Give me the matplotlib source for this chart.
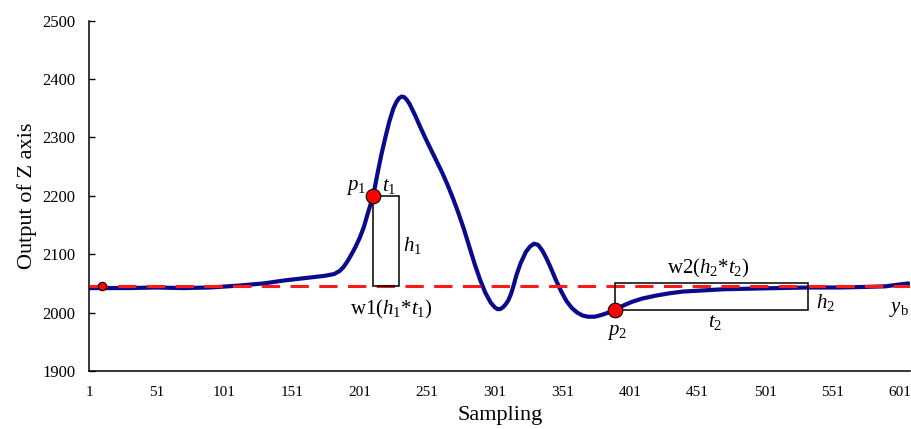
import matplotlib
matplotlib.use("Agg")
import matplotlib.pyplot as plt
from matplotlib.patches import Rectangle

# Z-axis output vs. sampling index
sampling = [1, 10, 30, 50, 70, 90, 110, 130, 145, 160, 175, 182, 186, 189, 192,
            195, 198, 201, 204, 207, 209, 211, 214, 217, 220, 223, 226, 228, 230,
            232, 234, 236, 238, 242, 246, 250, 254, 258, 262, 266, 270, 274, 278,
            282, 286, 290, 294, 298, 301, 303, 305, 307, 309, 311, 313, 315, 317,
            320, 324, 327, 330, 333, 336, 339, 342, 346, 350, 354, 358, 362, 366,
            370, 375, 380, 385, 390, 396, 402, 410, 420, 430, 440, 455, 470, 490,
            510, 533, 555, 575, 590, 600, 607]
z_output = [2042, 2042, 2042, 2043, 2042, 2043, 2046, 2050, 2055, 2059, 2063, 2066,
            2071, 2078, 2088, 2100, 2113, 2128, 2146, 2170, 2185, 2200, 2236, 2270,
            2300, 2328, 2350, 2360, 2367, 2370, 2369, 2364, 2357, 2338, 2317, 2297,
            2278, 2259, 2240, 2219, 2196, 2171, 2144, 2114, 2084, 2057, 2034, 2017,
            2009, 2006, 2006, 2009, 2014, 2021, 2032, 2047, 2064, 2084, 2104, 2113,
            2118, 2116, 2107, 2094, 2079, 2057, 2037, 2020, 2008, 2000, 1995, 1993,
            1993, 1996, 2000, 2004, 2012, 2018, 2024, 2029, 2033, 2036, 2038, 2040,
            2041, 2042, 2043, 2043, 2044, 2045, 2048, 2050]

baseline = 2045          # y_b
start_pt = (10, 2045)
p1 = (211, 2200)
t1_end = 230
p2 = (390, 2004)
t2_end = 533
h2_top = 2050

xticks = list(range(1, 602, 50))
yticks = list(range(1900, 2501, 100))

plt.rcParams["font.family"] = ["Liberation Serif", "DejaVu Serif"]
plt.rcParams["mathtext.fontset"] = "custom"
plt.rcParams["mathtext.rm"] = "Liberation Serif"
plt.rcParams["mathtext.it"] = "Liberation Serif:italic"

fig = plt.figure(figsize=(9.12, 4.29), dpi=100)
ax = fig.add_axes([0.0981, 0.1352, 0.900, 0.8166])

ax.axhline(baseline, color="#ff1a1a", lw=2.2, dashes=(6, 3.4), zorder=3)
ax.plot(sampling, z_output, color="#0a0a8c", lw=3.0, zorder=2,
        solid_capstyle="round", solid_joinstyle="round")

# rectangles w1 and w2
ax.add_patch(Rectangle((p1[0], baseline), t1_end - p1[0], p1[1] - baseline,
                       fill=False, ec="black", lw=1.1, zorder=4))
ax.add_patch(Rectangle((p2[0], p2[1]), t2_end - p2[0], h2_top - p2[1],
                       fill=False, ec="black", lw=1.1, zorder=4))

ax.plot(*start_pt, "o", ms=6, mfc="red", mec="black", mew=0.8, zorder=5)
ax.plot(*p1, "o", ms=10.5, mfc="red", mec="black", mew=0.8, zorder=5)
ax.plot(*p2, "o", ms=10.5, mfc="red", mec="black", mew=0.8, zorder=5)

fs = 15
ax.text(198, 2215, r"$p_1$", fontsize=fs, ha="center", va="center")
ax.text(222.5, 2216, r"$t_1$", fontsize=fs, ha="center", va="center")
ax.text(240, 2115, r"$h_1$", fontsize=fs, ha="center", va="center")
ax.text(224.5, 2006, r"w1($h_1$*$t_1$)", fontsize=fs, ha="center", va="center")
ax.text(459, 2075, r"w2($h_2$*$t_2$)", fontsize=fs, ha="center", va="center")
ax.text(545.5, 2017, r"$h_2$", fontsize=fs, ha="center", va="center")
ax.text(464, 1983, r"$t_2$", fontsize=fs, ha="center", va="center")
ax.text(391.5, 1966, r"$p_2$", fontsize=fs, ha="center", va="center")
ax.text(607.5, 2005, r"$y_\mathrm{b}$", fontsize=fs, ha="right", va="center")

ax.set_xlim(1, 608.5)
ax.set_ylim(1900, 2500)
ax.set_xticks(xticks)
ax.set_yticks(yticks)
ax.tick_params(axis="x", length=0, pad=11, labelsize=11)
ax.tick_params(axis="y", direction="in", length=4.5, width=1, pad=10, labelsize=12)
for s in ["top", "right"]:
    ax.spines[s].set_visible(False)
for s in ["left", "bottom"]:
    ax.spines[s].set_linewidth(1.1)

ax.set_xlabel("Sampling", fontsize=16, labelpad=5)
ax.set_ylabel("Output of Z axis", fontsize=16, labelpad=4)

fig.savefig("out.png", dpi=100)
